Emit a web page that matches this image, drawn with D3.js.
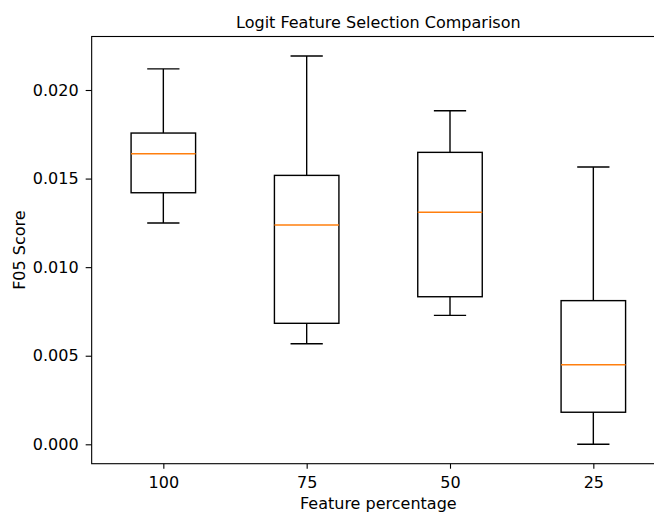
<!DOCTYPE html>
<html>
<head>
<meta charset="utf-8">
<script src="https://cdn.jsdelivr.net/npm/d3@7"></script>
<style>
  html, body { margin: 0; padding: 0; background: #fff; }
  svg { display: block; font-family: "DejaVu Sans", sans-serif; }
</style>
</head>
<body>
<svg id="chart" width="654" height="512"></svg>
<script>
// Feature percentage groups and the five-number summaries of their F05 scores
const categories = ["100", "75", "50", "25"];
const whiskerLow  = [0.01249, 0.00568, 0.00728, 0.00000];
const quartile1   = [0.01420, 0.00683, 0.00833, 0.00181];
const medians     = [0.01640, 0.01238, 0.01310, 0.00449];
const quartile3   = [0.01757, 0.01518, 0.01648, 0.00811];
const whiskerHigh = [0.02119, 0.02192, 0.01883, 0.01565];
const yTicks = [0.000, 0.005, 0.010, 0.015, 0.020];

const boxes = categories.map((c, i) => ({
  label: c, pos: i + 1,
  lo: whiskerLow[i], q1: quartile1[i], med: medians[i], q3: quartile3[i], hi: whiskerHigh[i]
}));

const svg = d3.select("#chart");
const plot = { left: 91.67, right: 665, top: 36.5, bottom: 463.7 };
const fontSize = "16px";

const x = d3.scaleLinear().domain([0.5, 4.5]).range([plot.left, plot.right]);
const y = d3.scaleLinear().domain([-0.001095, 0.02302]).range([plot.bottom, plot.top]);

const boxWidth = 0.45, capWidth = 0.225;
const lineW = 1.4;

const g = svg.append("g");

// whiskers
g.selectAll(".whisker-lo").data(boxes).join("line")
  .attr("x1", d => x(d.pos)).attr("x2", d => x(d.pos))
  .attr("y1", d => y(d.q1)).attr("y2", d => y(d.lo))
  .attr("stroke", "#000").attr("stroke-width", lineW);
g.selectAll(".whisker-hi").data(boxes).join("line")
  .attr("x1", d => x(d.pos)).attr("x2", d => x(d.pos))
  .attr("y1", d => y(d.q3)).attr("y2", d => y(d.hi))
  .attr("stroke", "#000").attr("stroke-width", lineW);

// caps
for (const key of ["lo", "hi"]) {
  g.selectAll(".cap-" + key).data(boxes).join("line")
    .attr("x1", d => x(d.pos - capWidth / 2)).attr("x2", d => x(d.pos + capWidth / 2))
    .attr("y1", d => y(d[key])).attr("y2", d => y(d[key]))
    .attr("stroke", "#000").attr("stroke-width", lineW);
}

// boxes
g.selectAll(".box").data(boxes).join("rect")
  .attr("x", d => x(d.pos - boxWidth / 2))
  .attr("width", d => x(d.pos + boxWidth / 2) - x(d.pos - boxWidth / 2))
  .attr("y", d => y(d.q3))
  .attr("height", d => y(d.q1) - y(d.q3))
  .attr("fill", "none").attr("stroke", "#000").attr("stroke-width", lineW);

// medians
g.selectAll(".median").data(boxes).join("line")
  .attr("x1", d => x(d.pos - boxWidth / 2)).attr("x2", d => x(d.pos + boxWidth / 2))
  .attr("y1", d => y(d.med)).attr("y2", d => y(d.med))
  .attr("stroke", "#ff7f0e").attr("stroke-width", lineW);

// axes
const xAxis = d3.axisBottom(x)
  .tickValues(boxes.map(d => d.pos))
  .tickFormat((d, i) => categories[i])
  .tickSize(5).tickPadding(8);
const yAxis = d3.axisLeft(y)
  .tickValues(yTicks)
  .tickFormat(d3.format(".3f"))
  .tickSize(6).tickPadding(7);

const gx = svg.append("g").attr("transform", `translate(0,${plot.bottom})`).call(xAxis);
const gy = svg.append("g").attr("transform", `translate(${plot.left},0)`).call(yAxis);
for (const ax of [gx, gy]) {
  ax.select(".domain").remove();
  ax.selectAll("line").attr("stroke", "#000").attr("stroke-width", 1.1);
  ax.selectAll("text").attr("fill", "#000").style("font-size", fontSize)
    .style("font-family", "'DejaVu Sans', sans-serif");
}

// frame
svg.append("rect")
  .attr("x", plot.left).attr("y", plot.top)
  .attr("width", plot.right - plot.left).attr("height", plot.bottom - plot.top)
  .attr("fill", "none").attr("stroke", "#000").attr("stroke-width", 1.1);

// title and labels
svg.append("text")
  .attr("x", (plot.left + plot.right) / 2).attr("y", 27.5)
  .attr("text-anchor", "middle").style("font-size", fontSize)
  .text("Logit Feature Selection Comparison");
svg.append("text")
  .attr("x", (plot.left + plot.right) / 2).attr("y", 508.5)
  .attr("text-anchor", "middle").style("font-size", fontSize)
  .text("Feature percentage");
svg.append("text")
  .attr("transform", `translate(25,${(plot.top + plot.bottom) / 2}) rotate(-90)`)
  .attr("text-anchor", "middle").style("font-size", fontSize)
  .text("F05 Score");
</script>
</body>
</html>
